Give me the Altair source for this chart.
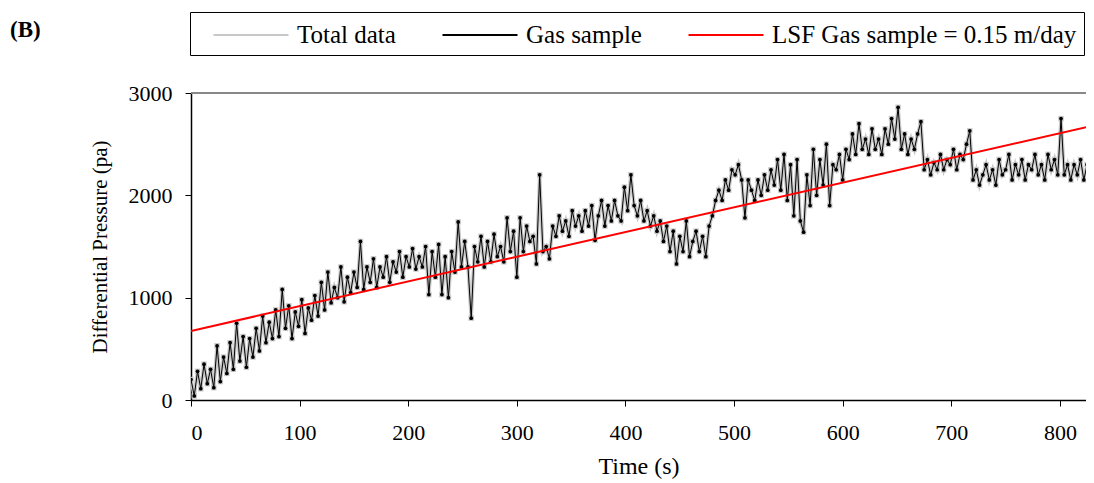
import altair as alt
import pandas as pd

# ---- data ----
time_s = list(range(0, 829, 3))
gas_pa = [
    200, 40, 280, 110, 350, 160, 300, 120, 530, 180,
    420, 260, 560, 300, 750, 380, 620, 320, 600, 420,
    700, 480, 820, 560, 760, 600, 880, 620, 1080, 700,
    920, 600, 860, 720, 980, 650, 900, 780, 1020, 820,
    1150, 880, 1250, 950, 1100, 1000, 1300, 960, 1200, 1050,
    1250, 1100, 1550, 1080, 1300, 1150, 1380, 1100, 1300, 1200,
    1400, 1150, 1350, 1250, 1450, 1200, 1400, 1300, 1480, 1280,
    1400, 1300, 1500, 1030, 1450, 1200, 1520, 1030, 1400, 1000,
    1450, 1250, 1740, 1300, 1550, 1300, 800, 1500, 1350, 1600,
    1300, 1550, 1350, 1620, 1400, 1500, 1350, 1780, 1450, 1650,
    1200, 1780, 1450, 1700, 1550, 1600, 1330, 2200, 1450, 1500,
    1380, 1700, 1600, 1800, 1650, 1750, 1600, 1850, 1700, 1800,
    1650, 1850, 1700, 1900, 1560, 1800, 1950, 1700, 1900, 1750,
    1950, 1800, 1750, 2080, 1850, 2200, 1900, 1800, 1950, 1750,
    1850, 1700, 1800, 1650, 1750, 1550, 1700, 1450, 1650, 1330,
    1600, 1450, 1750, 1400, 1550, 1650, 1450, 1600, 1400, 1700,
    1800, 1950, 2050, 1950, 2150, 2050, 2250, 2200, 2300, 2150,
    1780, 2150, 2050, 1950, 2150, 2000, 2200, 2050, 2250, 2100,
    2350, 2050, 2400, 1950, 2300, 1800, 2350, 1750, 1640, 2200,
    1900, 2450, 2000, 2350, 2100, 2500, 1900, 2300, 2250, 2400,
    2150, 2450, 2350, 2600, 2400, 2700, 2450, 2550, 2400, 2650,
    2450, 2550, 2400, 2650, 2500, 2750, 2550, 2860, 2450, 2600,
    2400, 2550, 2450, 2600, 2720, 2250, 2350, 2200, 2320, 2250,
    2400, 2250, 2350, 2300, 2450, 2250, 2400, 2350, 2500, 2630,
    2150, 2250, 2100, 2200, 2300, 2150, 2250, 2100, 2350, 2200,
    2250, 2400, 2150, 2300, 2200, 2350, 2150, 2300, 2250, 2400,
    2200, 2300, 2150, 2400, 2250, 2350, 2200, 2750, 2200, 2300,
    2150, 2300, 2200, 2350, 2150, 2300, 2250,
]
lsf_time = [0, 830]
lsf_pa = [675, 2680]
x_ticks = [0, 100, 200, 300, 400, 500, 600, 700, 800]
y_ticks = [0, 1000, 2000, 3000]
series_names = ["Total data", "Gas sample", "LSF Gas sample = 0.15 m/day"]
series_colors = ["#c8c8c8", "#000000", "#ff0000"]

df_total = pd.DataFrame({"t": time_s, "p": gas_pa, "series": series_names[0]})
df_gas = pd.DataFrame({"t": time_s, "p": gas_pa, "series": series_names[1]})
df_lsf = pd.DataFrame({"t": lsf_time, "p": lsf_pa, "series": series_names[2]})

FONT = "Liberation Serif"

x = alt.X("t:Q", scale=alt.Scale(domain=[0, 824], nice=False),
          axis=alt.Axis(title="Time (s)", values=x_ticks, format="d",
                        labelPadding=16, titlePadding=11, titleFontSize=24))
y = alt.Y("p:Q", scale=alt.Scale(domain=[0, 3000], nice=False),
          axis=alt.Axis(title="Differential Pressure (pa)", values=y_ticks, format="d",
                        labelPadding=13, titlePadding=18, titleFontSize=21))

legend = alt.Legend(
    title=None, orient="none", legendX=-1, legendY=-81, direction="horizontal",
    strokeColor="black", padding=7, symbolType="M-2.5,0H2.5", symbolSize=900,
    symbolOffset=38, symbolStrokeWidth=2, labelFont=FONT, labelFontSize=25,
    labelColor="black", labelLimit=400, columnPadding=30, labelOffset=30,
)
color = alt.Color("series:N", scale=alt.Scale(domain=series_names, range=series_colors),
                  legend=legend)

total_line = alt.Chart(df_total).mark_line(strokeWidth=3.5, clip=True).encode(
    x=x, y=y, color=color)
total_pts = alt.Chart(df_total).mark_square(size=30, color="#c8c8c8", opacity=1, clip=True).encode(x=x, y=y)
gas_line = alt.Chart(df_gas).mark_line(strokeWidth=1, clip=True).encode(x=x, y=y, color=color)
gas_pts = alt.Chart(df_gas).mark_circle(size=14, color="black", opacity=1, clip=True).encode(x=x, y=y)
lsf_line = alt.Chart(df_lsf).mark_line(strokeWidth=2, clip=True).encode(x=x, y=y, color=color)
top_rule = alt.Chart(df_lsf).mark_rule(color="#888888", strokeWidth=2).encode(y=alt.datum(3000))

chart = alt.layer(top_rule, total_line, total_pts, gas_line, gas_pts, lsf_line).properties(
    width=895, height=307, autosize="none",
    padding={"left": 183, "top": 85, "right": 0, "bottom": 80},
    title=alt.TitleParams("(B)", anchor="start", frame="group", dx=-181, offset=-30,
                          font=FONT, fontSize=23, fontWeight="bold", color="black"),
).configure_view(stroke=None).configure_axis(
    grid=False, labelFont=FONT, titleFont=FONT, labelFontSize=22,
    titleFontWeight="normal", labelColor="black", titleColor="black",
    domainColor="black", tickColor="black", domainWidth=1.5, tickSize=6,
)

chart.save("out.html", embed_options={"renderer": "svg", "actions": False})
